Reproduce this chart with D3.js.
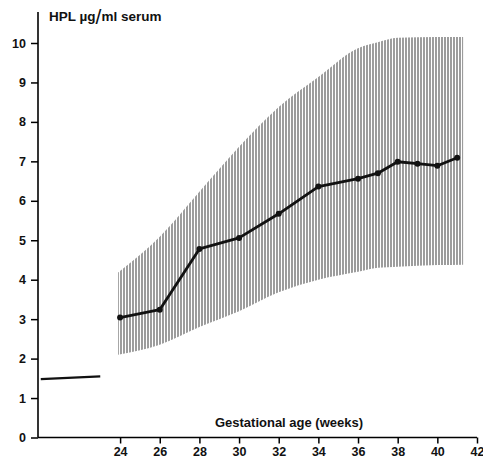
<!DOCTYPE html>
<html>
<head>
<meta charset="utf-8">
<script src="https://cdn.jsdelivr.net/npm/d3@7"></script>
<style>
  body { margin: 0; background: #fff; }
  svg text { font-family: "Liberation Sans", Arial, sans-serif; font-weight: bold; fill: #111; }
</style>
</head>
<body>
<svg id="chart" width="483" height="458"></svg>
<script>
// mean HPL by gestational week
const weeks = [24, 26, 28, 30, 32, 34, 36, 37, 38, 39, 40, 41]
const hplMean = [3.04, 3.24, 4.78, 5.06, 5.67, 6.36, 6.56, 6.7, 6.99, 6.94, 6.89, 7.09]

// shaded range (upper / lower limits)
const bandWeeks = [23.9, 26, 28, 30, 32, 34, 36, 37, 38, 40, 41.3]
const bandUpper = [4.18, 5.09, 6.23, 7.37, 8.38, 9.14, 9.87, 10.02, 10.13, 10.15, 10.15]
const bandLower = [2.1, 2.35, 2.8, 3.2, 3.68, 4.0, 4.2, 4.3, 4.33, 4.37, 4.38]

// non-pregnant level (short line at left)
const baseWeeks = [20, 23]
const baseValues = [1.48, 1.55]

const xTicks = [24, 26, 28, 30, 32, 34, 36, 38, 40, 42]
const yTicks = [0, 1, 2, 3, 4, 5, 6, 7, 8, 9, 10]

function whenDocumentLoaded(action) {
  if (document.readyState === "loading") {
    document.addEventListener("DOMContentLoaded", action);
  } else {
    action();
  }
}

function drawChart() {
  const svg = d3.select('#chart');

  const x = d3.scaleLinear().domain([19.86, 42]).range([38, 477]);
  const y = d3.scaleLinear().domain([0, 10]).range([437.5, 43]);

  // vertical hatching for the band
  const pat = svg.append('defs').append('pattern')
    .attr('id', 'hatch')
    .attr('patternUnits', 'userSpaceOnUse')
    .attr('width', 3).attr('height', 10);
  pat.append('line')
    .attr('x1', 1).attr('x2', 1).attr('y1', 0).attr('y2', 10)
    .attr('stroke', '#4a4a4a').attr('stroke-width', 1.1);

  const band = bandWeeks.map((w, i) => ({w: w, hi: bandUpper[i], lo: bandLower[i]}));
  svg.append('path')
    .datum(band)
    .attr('fill', 'url(#hatch)')
    .attr('d', d3.area()
      .x(d => x(d.w))
      .y0(d => y(d.lo))
      .y1(d => y(d.hi))
      .curve(d3.curveMonotoneX));

  // axes
  const yAxis = d3.axisLeft(y).tickValues(yTicks).tickSize(7).tickPadding(5).tickFormat(d3.format('d'));
  const gy = svg.append('g').attr('transform', `translate(${x(19.86)},0)`).call(yAxis);
  gy.select('.domain').attr('d', `M0,${y(0)}V12`).attr('stroke-width', 1.6);
  gy.selectAll('.tick line').attr('stroke-width', 1.5);
  gy.selectAll('.tick text').attr('font-size', 12.5);

  const xAxis = d3.axisBottom(x).tickValues(xTicks).tickSize(6).tickPadding(4).tickFormat(d3.format('d'));
  const gx = svg.append('g').attr('transform', `translate(0,${y(0)})`).call(xAxis);
  gx.select('.domain').attr('d', `M${x(19.86)},0H${x(42)}`).attr('stroke-width', 1.6);
  gx.selectAll('.tick line').attr('stroke-width', 1.5);
  gx.selectAll('.tick text').attr('font-size', 12.5);

  // short baseline segment
  svg.append('path')
    .datum(baseWeeks.map((w, i) => [x(w), y(baseValues[i])]))
    .attr('fill', 'none').attr('stroke', '#111').attr('stroke-width', 2.2)
    .attr('d', d3.line());

  // mean line
  const pts = weeks.map((w, i) => [x(w), y(hplMean[i])]);
  svg.append('path')
    .datum(pts)
    .attr('fill', 'none').attr('stroke', '#111').attr('stroke-width', 2.8)
    .attr('stroke-linejoin', 'round')
    .attr('d', d3.line());
  svg.selectAll('circle.pt')
    .data(pts)
    .join('circle')
    .attr('class', 'pt')
    .attr('cx', d => d[0]).attr('cy', d => d[1])
    .attr('r', 3).attr('fill', '#111');

  // labels
  const title = svg.append('text').attr('x', 49).attr('y', 21).attr('font-size', 13.5);
  title.append('tspan').text('HPL µg');
  title.append('tspan').attr('font-size', 21).attr('font-weight', 'normal').attr('dy', 3).text('/');
  title.append('tspan').attr('dy', -3).text('ml serum');

  svg.append('text')
    .attr('x', 289).attr('y', 427)
    .attr('text-anchor', 'middle')
    .attr('font-size', 13)
    .text('Gestational age (weeks)');
}

whenDocumentLoaded(drawChart);
</script>
</body>
</html>
